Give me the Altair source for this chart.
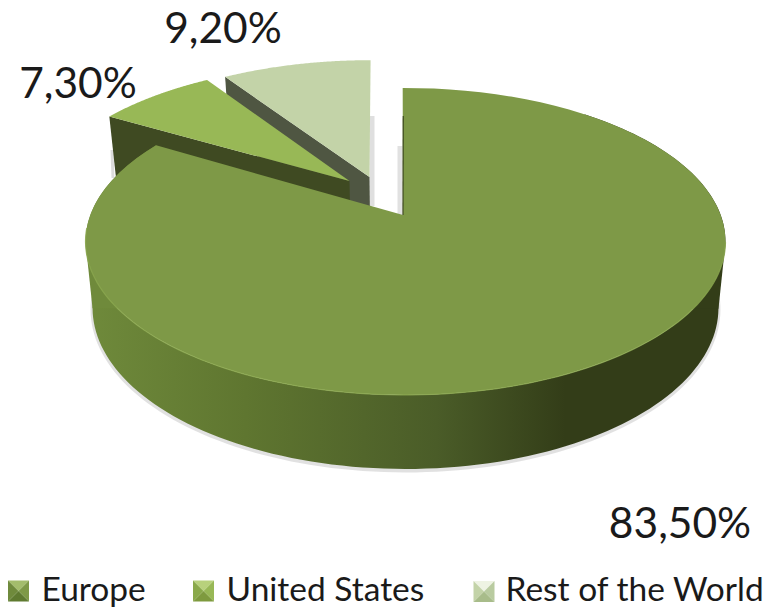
import math
import altair as alt
import pandas as pd

# --- values
categories = ["Europe", "United States", "Rest of the World"]
shares = [83.5, 7.3, 9.2]
labels = ["83,50%", "7,30%", "9,20%"]
top_colors = ["#7e9947", "#98b856", "#c3d3a8"]
wall_colors = ["#3d4722", "#3f4a22", "#4f5642"]
arc_u = [0.0, -0.2, -0.135]
arc_v = [0.0, 0.2377, 0.267]
apex_u = [-0.008, -0.185, -0.1195]
start_nudge = [-0.6, 0.0, 0.0]
label_x = [680, 78, 223]
label_y = [538, 98, 43]
bevel_x = [18.5, 203.5, 484.0]
bevel_y = [591.0, 591.0, 591.5]
bevel_top = ["#a3bc6c", "#b8d17c", "#eef3e3"]
bevel_left = ["#6f8a3c", "#8aa94a", "#c3d3a8"]
bevel_right = ["#7e9947", "#98b856", "#b9cba0"]
bevel_bottom = ["#5f7a30", "#7e9a3e", "#a8bc8a"]
wall_stops = ["#6f8a3b", "#5f7630", "#4a5c28", "#333d18", "#333d18"]
wall_offsets = [0.0, 0.25, 0.55, 0.75, 1.0]

# pie geometry in picture coordinates
CX, CY, R, A, C = 405.5, 215.0, 315.2, -111.8, 0.1726


def project(u, v):
    d = 1 + C * v
    return CX + R * u / d, (CY + A * v) / d


def drop(x, y):
    depth = 60 + 14 * (y - 117) / 278
    return CX + 0.978 * (x - CX), y + depth


def arc_points(k, t0, t1, n=90):
    pts = []
    for j in range(n + 1):
        t = math.radians(t0 + (t1 - t0) * j / n)
        pts.append(project(arc_u[k] + math.sin(t), arc_v[k] + math.cos(t)))
    return pts


def frame(pts, **extra):
    return pd.DataFrame(
        [{"x": p[0], "y": p[1], "i": i, **extra} for i, p in enumerate(pts)]
    )


starts = [0.0]
for s in shares:
    starts.append(starts[-1] + s * 3.6)

xs = alt.Scale(domain=[8, 772], nice=False, zero=False)
ys = alt.Scale(domain=[608, 8], nice=False, zero=False)
X = alt.X("x:Q", scale=xs, axis=None)
Y = alt.Y("y:Q", scale=ys, axis=None)
ORD = alt.Order("i:Q")


def poly(pts, fill, stroke=None, sw=0.0, opacity=1.0):
    return (
        alt.Chart(frame(pts))
        .mark_line(fill=fill, stroke=stroke or "transparent", strokeWidth=sw, opacity=opacity)
        .encode(x=X, y=Y, order=ORD)
    )


def path(pts, color, sw, opacity=1.0):
    return (
        alt.Chart(frame(pts))
        .mark_line(color=color, strokeWidth=sw, opacity=opacity)
        .encode(x=X, y=Y, order=ORD)
    )


def apex_of(k):
    return project(apex_u[k], arc_v[k])


def top_layer(k):
    a = apex_of(k)
    pts = [a] + arc_points(k, starts[k] + start_nudge[k], starts[k + 1]) + [a]
    return frame(pts, name=categories[k])


layers = []

# Rest of the World: soft shadow and cut wall
apex2 = apex_of(2)
edge2 = arc_points(2, starts[2], starts[3], 1)
layers.append(path([(372, 116), (372, 206)], "#b9b9b9", 5, 0.45))
layers.append(poly([edge2[0], apex2, drop(*apex2), drop(*edge2[0])], wall_colors[2]))

# United States: cut wall
apex1 = apex_of(1)
edge1 = arc_points(1, starts[1], starts[2], 1)
layers.append(path([(112, 150), (113, 178)], "#c4c4c4", 3, 0.6))
layers.append(poly([edge1[0], apex1, drop(*apex1), drop(*edge1[0])], wall_colors[1]))

# Europe outer wall with its horizontal shading and soft shadow
front = arc_points(0, 40, starts[1], 160)
under = [drop(*p) for p in front]
layers.append(path([(x, y + 1.5) for x, y in under[25:145]], "#9a9a9a", 4, 0.3))
wall_fill = alt.Gradient(
    gradient="linear",
    x1=0, x2=1, y1=0, y2=0,
    stops=[alt.GradientStop(offset=o, color=c) for o, c in zip(wall_offsets, wall_stops)],
)
layers.append(poly(front + under[::-1] + [front[0]], wall_fill))

# Straight silhouette from the widest points of the top face to those of the bottom
top_left, top_right = min(front), max(front)
bot_left, bot_right = min(under), max(under)
layers.append(poly([top_left, bot_left, (bot_left[0] + 40, bot_left[1]), top_left], wall_stops[0]))
layers.append(poly([top_right, bot_right, (bot_right[0] - 40, bot_right[1]), top_right], wall_stops[-1]))

# Grey shadow at the Europe apex
apex0 = apex_of(0)
layers.append(path([(400, 146), (400, apex0[1])], "#bdbdbd", 5, 0.45))

# Top faces share one real legend; its swatches are shown through the bevel faces below
legend = alt.Legend(
    title=None,
    orient="none",
    legendX=-7,
    legendY=566,
    padding=0,
    direction="horizontal",
    columns=3,
    columnPadding=40,
    symbolType="square",
    symbolSize=441,
    symbolStrokeWidth=0,
    symbolOpacity=0,
    labelFont="Lato",
    labelFontSize=33.5,
    labelColor="#1a1a1a",
    labelOffset=7,
    labelLimit=400,
)
for k in (2, 1, 0):
    layers.append(
        alt.Chart(top_layer(k))
        .mark_line(strokeWidth=0, stroke="transparent")
        .encode(
            x=X,
            y=Y,
            order=ORD,
            fill=alt.Fill(
                "name:N",
                scale=alt.Scale(domain=categories, range=top_colors),
                legend=legend,
            ),
        )
    )

# Bevel highlight on the front rim and thin dark edge on the cut
layers.append(path(arc_points(0, 100, 265, 100), "#8ca950", 1.2, 0.8))
layers.append(path([project(apex_u[0], 0.75), apex0], "#3f4a22", 1.2))

# Bevelled faces of the legend swatches
H = 10.5
for k in range(3):
    bx, by = bevel_x[k], bevel_y[k]
    c = (bx, by)
    tl, tr, bl, br = (bx - H, by - H), (bx + H, by - H), (bx - H, by + H), (bx + H, by + H)
    layers.append(poly([tl, tr, c, tl], bevel_top[k]))
    layers.append(poly([tl, bl, c, tl], bevel_left[k]))
    layers.append(poly([tr, br, c, tr], bevel_right[k]))
    layers.append(poly([bl, br, c, bl], bevel_bottom[k]))

# Percentage labels
text_df = pd.DataFrame({"x": label_x, "y": label_y, "t": labels})
layers.append(
    alt.Chart(text_df)
    .mark_text(font="Lato", fontSize=42.5, color="#1a1a1a", align="center", baseline="alphabetic")
    .encode(x=X, y=Y, text="t:N")
)

chart = (
    alt.layer(*layers)
    .properties(width=764, height=600, padding=0, autosize=alt.AutoSizeParams(type="none"))
    .configure_view(stroke=None)
)
chart.save("out.html", embed_options={"renderer": "svg", "actions": False})
